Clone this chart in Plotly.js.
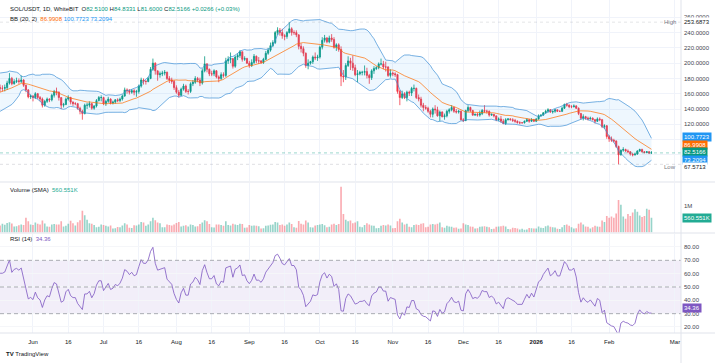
<!DOCTYPE html>
<html><head><meta charset="utf-8">
<script src="https://cdn.plot.ly/plotly-3.0.1.min.js"></script>
<style>html,body{margin:0;padding:0;background:#fff;}#chart{width:715px;height:363px;}</style>
</head><body><div id="chart"></div>
<script>
// ---------- DATA (daily SOL/USDT, WhiteBIT) ----------
const startDate = '2025-05-18';
// closes before the first visible day, used only to warm up BB(20,2) and RSI(14)
const warmupClose = [147,148,150,152,150,148,147,148,149,147,165,172,176,174,177,182,178,170,172,168];

const openP = [
 168,167,167,168,174,180,173,176,177,176,178,171,165,156, // May 18-31
 157,155,160,155,153,145,150,153,152,158,163,162,155,145,146,153,155,149,147,147,141,137,134,145,145,147,141,144,151,155, // Jun
 155,147,150,153,148,149,152,151,153,157,165,164,162,164,162,163,170,178,176,176,180,192,200,190,185,186,187,188,180,178,176, // Jul
 168,162,158,166,170,163,163,173,175,180,178,174,190,199,192,186,186,190,182,180,185,184,203,205,206,196,208,210,215,205,206, // Aug
 200,197,201,209,203,203,201,205,213,217,223,227,240,243,240,236,235,240,245,240,240,237,222,219,213,197,200,202,208,207, // Sep
 208,221,230,233,228,233,231,221,224,218,183,182,197,203,200,194,185,186,188,188,189,184,181,190,193,194,199,199,195,195,184, // Oct
 187,186,185,163,155,160,155,162,161,167,167,155,153,145,142,141,137,133,140,139,131,136,130,131,137,139,142,137,136,137, // Nov
 126,125,138,142,138,132,133,132,134,138,137,137,132,133,131,126,127,124,121,126,127,126,125,124,122,122,122,124,126,124,126, // Dec
 124,127,131,132,135,137,139,136,137,139,137,137,141,146,145,143,143,144,141,134,128,130,128,127,128,126,124,127,126,117,118, // Jan
 104,101,99,98,91,80,86,87,85,84,81,80,81,85,87,84,83,84,82.51 // Feb 1-19
];
const highP = [
 172,171,172,177,187,182,179,181,180,184,179,172,166,159,
 158,162,161,157,155,152,155,154,160,165,168,163,155,148,155,158,156,150,149,148,143,139,147,148,150,148,145,153,157,158,
 156,152,156,154,151,153,154,155,159,168,167,166,166,166,165,172,181,180,178,182,195,206,201,190,189,190,191,189,183,181,178,
 171,165,168,173,172,166,175,178,183,182,181,193,209,200,193,190,192,191,184,188,188,207,209,214,206,210,213,217,215,209,207,
 203,205,212,210,208,204,207,216,220,227,230,242,247,246,245,238,242,253.6873,247,243,243,238,226,222,214,205,203,210,214,211,
 223,234,237,234,236,238,234,226,226,222,191,200,209,207,210,198,191,190,190,197,194,186,192,196,196,201,206,203,202,196,192,
 189,188,186,165,164,162,164,164,169,172,168,159,156,148,145,143,139,142,145,143,138,137,134,139,141,145,143,140,139,138,
 128,139,145,143,139,134,135,138,140,145,139,138,134,133,131,129,131,127,128,128,128,128,127,125,124,123,125,128,127,128,127,
 128,133,133,136,139,141,140,138,140,139,138,143,147,148,146,145,146,145,142,135,133,131,130,130,129,127,129,129,127,120,119,
 106,104,101,99,92,87,90,88,87,85,82,83,86,88,88,85,85,85,84.8331
];
const lowP = [
 162,163,163,165,172,171,172,174,173,174,169,162,154,153,
 150,153,153,150,142,143,148,149,150,155,158,151,140,142,145,151,146,144,145,139,133,126,133,140,142,139,139,142,150,150,
 145,144,148,146,146,147,149,149,151,156,160,159,160,158,156,160,168,172,172,175,179,190,185,177,181,183,184,178,174,173,165,
 160,155,157,164,161,159,161,170,173,175,170,172,188,188,183,183,183,180,175,178,181,182,199,200,193,194,204,207,202,203,199,
 194,195,199,200,199,199,199,204,211,215,221,225,237,236,232,230,232,239,236,237,234,218,214,209,194,192,198,199,204,203,
 206,218,227,226,226,228,219,216,215,170,175,178,195,191,190,183,175,184,184,184,180,173,178,186,191,192,197,192,189,182,181,
 183,182,160,145,153,153,150,157,157,163,153,150,142,137,139,135,129,129,134,130,124,129,126,129,134,137,135,134,134,125,
 123,124,136,136,131,131,130,130,132,135,134,130,131,129,124,124,122,120,119,125,125,123,122,121,120,121,121,123,122,123,123,
 123,126,130,131,134,135,135,134,135,136,136,136,140,143,141,141,142,140,132,126,125,126,125,126,125,121,123,124,115,114,101,
 97,97,96,89,67.5713,79,84,84,82,79,78,79,80,84,83,82,82,81,81.6
];
const closeP = [
 167,167,168,174,180,173,176,177,176,178,171,165,156,157,
 155,160,155,153,145,150,153,152,158,163,162,155,145,146,153,155,149,147,147,141,137,134,145,145,147,141,144,151,155,155,
 147,150,153,148,149,152,151,153,157,165,164,162,164,162,163,170,178,176,176,180,192,200,190,185,186,187,188,180,178,176,168,
 162,158,166,170,163,163,173,175,180,178,174,190,199,192,186,186,190,182,180,185,184,203,205,206,196,208,210,215,205,206,200,
 197,201,209,203,203,201,205,213,217,223,227,240,243,240,236,235,240,245,240,240,237,222,219,213,197,200,202,208,207,208,
 221,230,233,228,233,231,221,224,218,183,182,197,203,200,194,185,186,188,188,189,184,181,190,193,194,199,199,195,195,184,187,
 186,185,163,155,160,155,162,161,167,167,155,153,145,142,141,137,133,140,139,131,136,130,131,137,139,142,137,136,137,126,
 125,138,142,138,132,133,132,134,138,137,137,132,133,131,126,127,124,121,126,127,126,125,124,122,122,122,124,126,124,126,124,
 127,131,132,135,137,139,136,137,139,137,137,141,146,145,143,143,144,141,134,128,130,128,127,128,126,124,127,126,117,118,104,
 101,99,98,91,80,86,87,85,84,81,80,81,85,87,84,83,84,82.49,82.5166
];
// volume, thousands
const volumeK = [
 260,330,290,360,390,340,230,240,270,300,280,560,420,300,
 280,380,330,300,450,340,230,220,300,320,300,300,420,230,250,330,440,350,260,390,460,820,650,480,350,330,280,200,220,300,
 280,250,230,260,150,160,210,200,260,350,300,180,170,270,260,300,400,380,250,300,420,560,460,380,350,200,200,300,280,260,300,
 360,400,230,250,270,230,300,280,230,240,320,380,460,420,320,200,190,300,300,280,250,420,280,260,330,300,280,330,320,180,190,
 280,250,260,250,240,150,160,250,260,290,300,400,380,280,300,250,300,380,320,200,180,430,330,300,450,380,200,190,260,280,
 300,320,270,200,220,300,330,280,320,1730,700,480,420,450,350,380,420,220,200,280,350,300,260,250,160,170,250,280,260,300,260,
 160,170,420,520,380,300,330,220,200,280,300,280,330,350,200,220,300,320,300,330,380,200,180,250,230,220,180,190,140,150,
 350,300,280,230,220,150,160,220,230,240,220,200,130,140,220,230,240,250,230,130,120,180,170,150,110,140,100,110,170,160,150,
 150,230,180,170,240,260,220,200,190,140,130,200,280,300,250,200,150,160,330,380,300,230,220,150,200,250,230,220,450,400,620,
 560,600,560,720,1230,1050,600,520,700,620,750,880,780,640,580,620,900,860,560.551
];
const xTickDates = ['2025-06-01','2025-06-16','2025-07-01','2025-07-16','2025-08-01','2025-08-16','2025-09-01','2025-09-16','2025-10-01','2025-10-16','2025-11-01','2025-11-16','2025-12-01','2025-12-16','2026-01-01','2026-01-16','2026-02-01','2026-03-01'];
const xTickText = ['Jun','16','Jul','16','Aug','16','Sep','16','Oct','16','Nov','16','Dec','16','<b>2026</b>','16','Feb','Mar'];
const priceTicks = [80,100,120,140,160,180,200,220,240,260];
const priceTickText = ['','','120.0000','140.0000','160.0000','180.0000','200.0000','220.0000','240.0000','260.0000'];
const rsiTicks = [20,30,40,50,60,70,80];
const rsiTickText = ['20.00','30.00','40.00','50.00','60.00','70.00','80.00'];

// ---------- BUILD ----------
const n = closeP.length;
if ([openP.length, highP.length, lowP.length, volumeK.length].some(l => l !== n)) throw new Error('length mismatch ' + [n, openP.length, highP.length, lowP.length, volumeK.length]);
const dates = [];
const d0 = new Date(startDate + 'T00:00:00Z');
for (let i = 0; i < n; i++) { const d = new Date(d0.getTime() + i * 86400000); dates.push(d.toISOString().slice(0, 10)); }

const allClose = warmupClose.concat(closeP);
const W = warmupClose.length;
const bbMid = [], bbUp = [], bbLo = [];
for (let j = 0; j < n; j++) {
  const k = j + W;
  const win = allClose.slice(k - 19, k + 1);
  const m = win.reduce((a, b) => a + b, 0) / 20;
  const sd = Math.sqrt(win.reduce((a, b) => a + (b - m) * (b - m), 0) / 20);
  bbMid.push(m); bbUp.push(m + 2 * sd); bbLo.push(m - 2 * sd);
}
const rsiAll = [];
let ag = 0, al = 0;
for (let i = 1; i < allClose.length; i++) {
  const dd = allClose[i] - allClose[i - 1];
  const g = Math.max(dd, 0), l = Math.max(-dd, 0);
  if (i <= 14) { ag += g / 14; al += l / 14; if (i === 14) rsiAll[i] = 100 - 100 / (1 + ag / al); }
  else { ag = (ag * 13 + g) / 14; al = (al * 13 + l) / 14; rsiAll[i] = al === 0 ? 100 : 100 - 100 / (1 + ag / al); }
}
const rsi = rsiAll.slice(W, W + n);

const UP = '#089981', DN = '#F23645';
const volColors = closeP.map((c, i) => c >= openP[i] ? 'rgba(8,153,129,0.42)' : 'rgba(242,54,69,0.42)');
const volume = volumeK.map(v => v * 1000);

const traces = [
  {type: 'scatter', mode: 'lines', x: dates, y: bbLo, line: {color: '#3d8fd6', width: 0.7}, xaxis: 'x', yaxis: 'y', hoverinfo: 'skip'},
  {type: 'scatter', mode: 'lines', x: dates, y: bbUp, line: {color: '#3d8fd6', width: 0.7}, fill: 'tonexty', fillcolor: 'rgba(33,150,243,0.08)', xaxis: 'x', yaxis: 'y', hoverinfo: 'skip'},
  {type: 'scatter', mode: 'lines', x: dates, y: bbMid, line: {color: '#FF6D00', width: 0.7}, xaxis: 'x', yaxis: 'y', hoverinfo: 'skip'},
  {type: 'candlestick', x: dates, open: openP, high: highP, low: lowP, close: closeP, xaxis: 'x', yaxis: 'y',
   increasing: {line: {color: UP, width: 0.8}, fillcolor: UP}, decreasing: {line: {color: DN, width: 0.8}, fillcolor: DN}, whiskerwidth: 0, hoverinfo: 'skip'},
  {type: 'bar', x: dates, y: volume, marker: {color: volColors, line: {width: 0}}, xaxis: 'x', yaxis: 'y2', hoverinfo: 'skip'},
  {type: 'scatter', mode: 'lines', x: dates, y: rsi, line: {color: '#7E57C2', width: 0.8}, xaxis: 'x', yaxis: 'y3', hoverinfo: 'skip'}
];

const FONT = 'Liberation Sans, Arial, sans-serif';
const TXT = '#131722';
const hdr = (y, text) => ({xref: 'paper', yref: 'paper', x: 0.0117, y: y, xanchor: 'left', yanchor: 'middle', text: text, showarrow: false, font: {size: 6, color: TXT, family: FONT}});
const tag = (yref, val, txt, bg, ysh, fc) => ({xref: 'paper', yref: yref, x: 1, y: val, xanchor: 'left', yanchor: 'middle', xshift: 1, yshift: ysh || 0, text: txt, showarrow: false, bgcolor: bg, borderpad: 1, font: {size: 6, color: fc || '#ffffff', family: FONT}});
const G = c => '<span style="color:' + c + '">';

const annotations = [
  hdr(0.973, 'SOL/USDT, 1D, WhiteBIT  O' + G(UP) + '82.5100</span> H' + G(UP) + '84.8331</span> L' + G(UP) + '81.6000</span> C' + G(UP) + '82.5166</span> ' + G(UP) + '+0.0266 (+0.03%)</span>'),
  hdr(0.943, 'BB (20, 2)  ' + G('#FF6D00') + '86.9908</span> ' + G('#2196F3') + '100.7723</span> ' + G('#2196F3') + '73.2094</span>'),
  hdr(0.4294, 'Volume (SMA)  ' + G('#22ab94') + '560.551K</span>'),
  hdr(0.2823, 'RSI (14)  ' + G('#7E57C2') + '34.36</span>'),
  tag('y', 253.6873, '253.6873', '#ffffff', 0, TXT),
  tag('y', 100.7723, '100.7723', '#2196F3', 1.7),
  tag('y', 86.9908, '86.9908', '#FF6D00', 4.5),
  tag('y', 82.5166, '82.5166', '#089981', 0.6),
  tag('y', 73.2094, '73.2094', '#2196F3', 0),
  tag('y', 67.5713, '67.5713', '#ffffff', -2.7, TXT),
  tag('y2', 560551, '560.551K', '#22ab94', 0),
  tag('y3', 34.36, '34.36', '#7E57C2', 0),
  {xref: 'paper', yref: 'y', x: 1, y: 253.6873, xanchor: 'right', yanchor: 'middle', xshift: -3, text: 'High', showarrow: false, font: {size: 6, color: '#787B86', family: FONT}},
  {xref: 'paper', yref: 'y', x: 1, y: 67.5713, yshift: -2.7, xanchor: 'right', yanchor: 'middle', xshift: -3, text: 'Low', showarrow: false, font: {size: 6, color: '#787B86', family: FONT}},
  {xref: 'paper', yref: 'paper', x: 0.006, y: -0.063, xanchor: 'left', yanchor: 'middle', text: '<b>TV</b> TradingView', showarrow: false, font: {size: 6, color: TXT, family: FONT}}
];

const shapes = [
  {type: 'rect', xref: 'paper', yref: 'y3', x0: 0, x1: 1, y0: 30, y1: 70, fillcolor: 'rgba(126,87,194,0.1)', line: {width: 0}, layer: 'below'},
  {type: 'line', xref: 'paper', yref: 'y3', x0: 0, x1: 1, y0: 70, y1: 70, line: {color: '#9598A1', width: 0.8, dash: '4px,3px'}},
  {type: 'line', xref: 'paper', yref: 'y3', x0: 0, x1: 1, y0: 50, y1: 50, line: {color: '#9598A1', width: 0.8, dash: '4px,3px'}},
  {type: 'line', xref: 'paper', yref: 'y3', x0: 0, x1: 1, y0: 30, y1: 30, line: {color: '#9598A1', width: 0.8, dash: '4px,3px'}},
  {type: 'line', xref: 'paper', yref: 'y', x0: 0, x1: 1, y0: 82.5166, y1: 82.5166, line: {color: 'rgba(8,153,129,0.5)', width: 0.8, dash: 'dot'}},
  {type: 'line', xref: 'paper', yref: 'y', x0: 0, x1: 1, y0: 253.6873, y1: 253.6873, line: {color: 'rgba(120,123,134,0.25)', width: 0.8, dash: 'dot'}},
  {type: 'line', xref: 'paper', yref: 'y', x0: 0, x1: 1, y0: 67.5713, y1: 67.5713, line: {color: 'rgba(120,123,134,0.3)', width: 0.8, dash: 'dot'}},
  {type: 'line', xref: 'paper', yref: 'paper', x0: 0, x1: 1.05, y0: 0.4535, y1: 0.4535, line: {color: '#E0E3EB', width: 1}},
  {type: 'line', xref: 'paper', yref: 'paper', x0: 0, x1: 1.05, y0: 0.3003, y1: 0.3003, line: {color: '#E0E3EB', width: 1}},
  {type: 'line', xref: 'paper', yref: 'paper', x0: 0, x1: 1.05, y0: 0, y1: 0, line: {color: '#E0E3EB', width: 1}},
  {type: 'line', xref: 'paper', yref: 'paper', x0: 1, x1: 1, y0: -0.09, y1: 1, line: {color: '#E0E3EB', width: 1}}
];

const yCommon = {side: 'right', ticks: '', zeroline: false, showline: false, fixedrange: true, tickfont: {size: 6, color: '#434651', family: FONT}, ticklabelstandoff: 2, anchor: 'x'};
const layout = {
  width: 715, height: 363,
  margin: {l: 0, r: 34, t: 0, b: 30, pad: 0},
  paper_bgcolor: '#ffffff', plot_bgcolor: '#ffffff',
  showlegend: false, hovermode: false, dragmode: false,
  font: {family: FONT, size: 6, color: TXT},
  xaxis: {type: 'date', range: ['2025-05-17 23:20', '2026-03-03 13:26'], tickvals: xTickDates, ticktext: xTickText,
          showgrid: true, gridcolor: '#F0F3FA', gridwidth: 1, zeroline: false, ticks: '', anchor: 'y3', ticklabelstandoff: 4,
          tickfont: {size: 6, color: TXT, family: FONT}, rangeslider: {visible: false}, fixedrange: true, showline: false},
  yaxis: Object.assign({}, yCommon, {domain: [0.455, 1], range: [45.1, 282.7], tickvals: priceTicks, ticktext: priceTickText, showgrid: true, gridcolor: '#F0F3FA'}),
  yaxis2: Object.assign({}, yCommon, {domain: [0.3018, 0.4505], range: [0, 1868000], tickvals: [1000000], ticktext: ['1M'], showgrid: false}),
  yaxis3: Object.assign({}, yCommon, {domain: [0, 0.2973], range: [15.5, 89.75], tickvals: rsiTicks, ticktext: rsiTickText, showgrid: true, gridcolor: '#F5F6F9'}),
  annotations: annotations,
  shapes: shapes,
  bargap: 0.3
};
Plotly.newPlot('chart', traces, layout, {staticPlot: true, displayModeBar: false});
</script></body></html>
